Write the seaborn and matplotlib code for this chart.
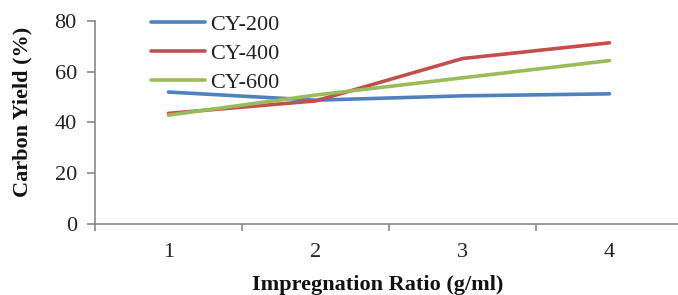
import matplotlib
matplotlib.use("Agg")
import matplotlib.pyplot as plt
import seaborn as sns
import pandas as pd
from matplotlib.ticker import FixedLocator

ratios = [1, 2, 3, 4]
cy200 = [52.0, 48.8, 50.5, 51.3]
cy400 = [43.6, 48.5, 65.2, 71.4]
cy600 = [42.9, 50.8, 57.6, 64.4]
series_names = ["CY-200", "CY-400", "CY-600"]
colors = ["#4F81BD", "#C0504D", "#9BBB59"]

rows = []
for name, vals in zip(series_names, [cy200, cy400, cy600]):
    for r, v in zip(ratios, vals):
        rows.append({"ratio": r, "yield": v, "series": name})
df = pd.DataFrame(rows)

sns.set_theme(style="white")
plt.rcParams["font.family"] = ["Liberation Serif", "DejaVu Serif"]

fig = plt.figure(figsize=(6.78, 2.95), dpi=100)
ax = fig.add_axes([0.140, 0.2407, 0.860, 0.6881])

sns.lineplot(data=df, x="ratio", y="yield", hue="series", palette=colors,
             linewidth=2.6, ax=ax, legend=True)

ax.set_xlim(0.5, 4.466)
ax.set_ylim(0, 80)
ax.set_xticks(ratios)
ax.set_xticklabels([str(r) for r in ratios])
ax.xaxis.set_minor_locator(FixedLocator([0.5, 1.5, 2.5, 3.5, 4.5]))
ax.set_yticks([0, 20, 40, 60, 80])

ax.tick_params(axis="x", which="major", length=0, pad=14, labelsize=16, colors="#222222")
ax.tick_params(axis="x", which="minor", length=5, width=1.2, color="#888888", direction="out", bottom=True)
ax.tick_params(axis="y", which="major", length=6, width=1.2, color="#888888", direction="out", left=True, pad=7, labelsize=16, labelcolor="#222222")

for s in ["top", "right"]:
    ax.spines[s].set_visible(False)
for s in ["left", "bottom"]:
    ax.spines[s].set_color("#888888")
    ax.spines[s].set_linewidth(1.2)

ax.set_xlabel("Impregnation Ratio (g/ml)", fontsize=16, fontweight="bold", color="#111111")
ax.set_ylabel("Carbon Yield (%)", fontsize=16, fontweight="bold", color="#111111")
ax.xaxis.set_label_coords((377.5 - 95) / 583, (224 - 275) / 203)
ax.yaxis.set_label_coords((33 - 95) / 583, (224 - 111.5) / 203)

leg = ax.legend(loc="upper left", bbox_to_anchor=(151 / 678, 1 - 14 / 295),
                bbox_transform=fig.transFigure, frameon=False, fontsize=16,
                handlelength=2.45, handletextpad=0.2, labelspacing=0.38, borderpad=0,
                borderaxespad=0)
for t in leg.get_texts():
    t.set_color("#222222")

fig.savefig("out.png", dpi=100)
